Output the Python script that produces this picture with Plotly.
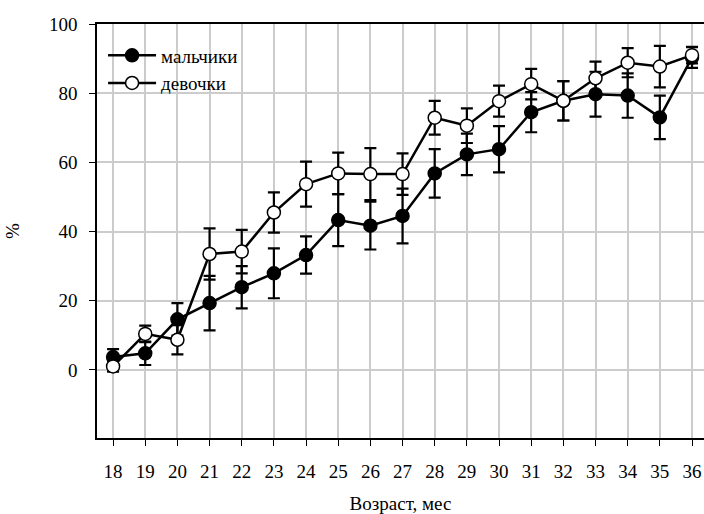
import plotly.graph_objects as go

age = list(range(18, 37))
boys = [3.7, 4.8, 14.6, 19.3, 23.9, 27.9, 33.2, 43.3, 41.7, 44.5, 56.8, 62.3, 63.8, 74.5, 77.8, 79.7, 79.3, 73.0, 90.3]
boys_err = [2.3, 3.4, 4.7, 7.9, 6.1, 7.2, 5.4, 7.5, 6.9, 7.9, 7.0, 6.0, 6.7, 5.8, 5.7, 6.5, 6.4, 6.3, 3.0]
girls = [1.0, 10.4, 8.7, 33.5, 34.2, 45.5, 53.7, 56.8, 56.6, 56.6, 72.9, 70.6, 77.7, 82.6, 77.8, 84.3, 88.8, 87.7, 91.0]
girls_err = [1.5, 2.4, 4.2, 7.4, 6.3, 5.8, 6.5, 6.0, 7.5, 6.0, 4.9, 5.0, 4.5, 4.4, 5.7, 4.8, 4.2, 6.0, 2.4]

FONT = "Liberation Serif"

fig = go.Figure()
fig.add_trace(go.Scatter(
    x=age, y=boys, name="мальчики", mode="lines+markers",
    line=dict(color="black", width=2.5),
    marker=dict(symbol="circle", size=13, color="black", line=dict(color="black", width=1.5)),
    error_y=dict(type="data", array=boys_err, visible=True, color="black", thickness=2.2, width=6),
))
fig.add_trace(go.Scatter(
    x=age, y=girls, name="девочки", mode="lines+markers",
    line=dict(color="black", width=2.5),
    marker=dict(symbol="circle", size=13, color="white", line=dict(color="black", width=1.5)),
    error_y=dict(type="data", array=girls_err, visible=True, color="black", thickness=2.2, width=6),
))

fig.update_layout(
    width=704, height=514,
    margin=dict(l=97, r=0, t=24, b=76, autoexpand=False),
    plot_bgcolor="white", paper_bgcolor="white",
    font=dict(family=FONT, size=19, color="black"),
    showlegend=True,
    legend=dict(x=0.01, y=0.97, xanchor="left", yanchor="top",
                bgcolor="rgba(255,255,255,0)", font=dict(family=FONT, size=19),
                itemwidth=48, tracegroupgap=0),
    xaxis=dict(
        range=[17.5, 36.373], tickmode="array", tickvals=age,
        ticktext=[str(a) for a in age],
        showgrid=True, gridcolor="#cccccc", gridwidth=1.5,
        showline=True, linecolor="black", linewidth=1.5, mirror=True,
        ticks="outside", ticklen=6, tickwidth=1, tickcolor="black",
        ticklabelstandoff=9,
        title=dict(text="Возраст, мес", standoff=20, font=dict(family=FONT, size=19)),
        zeroline=False, automargin=False,
    ),
    yaxis=dict(
        range=[-19.7, 100], tickmode="array", tickvals=[0, 20, 40, 60, 80, 100],
        showgrid=True, gridcolor="#cccccc", gridwidth=1.5,
        showline=True, linecolor="black", linewidth=1.5,
        ticks="outside", ticklen=6, tickwidth=1, tickcolor="black",
        ticklabelstandoff=8,
        title=dict(text="%", standoff=24, font=dict(family=FONT, size=19)),
        zeroline=False, automargin=False,
    ),
)

fig.write_html("out.html", config={"displayModeBar": False},
               post_script="document.body.style.margin='0';document.body.style.overflow='hidden';")
